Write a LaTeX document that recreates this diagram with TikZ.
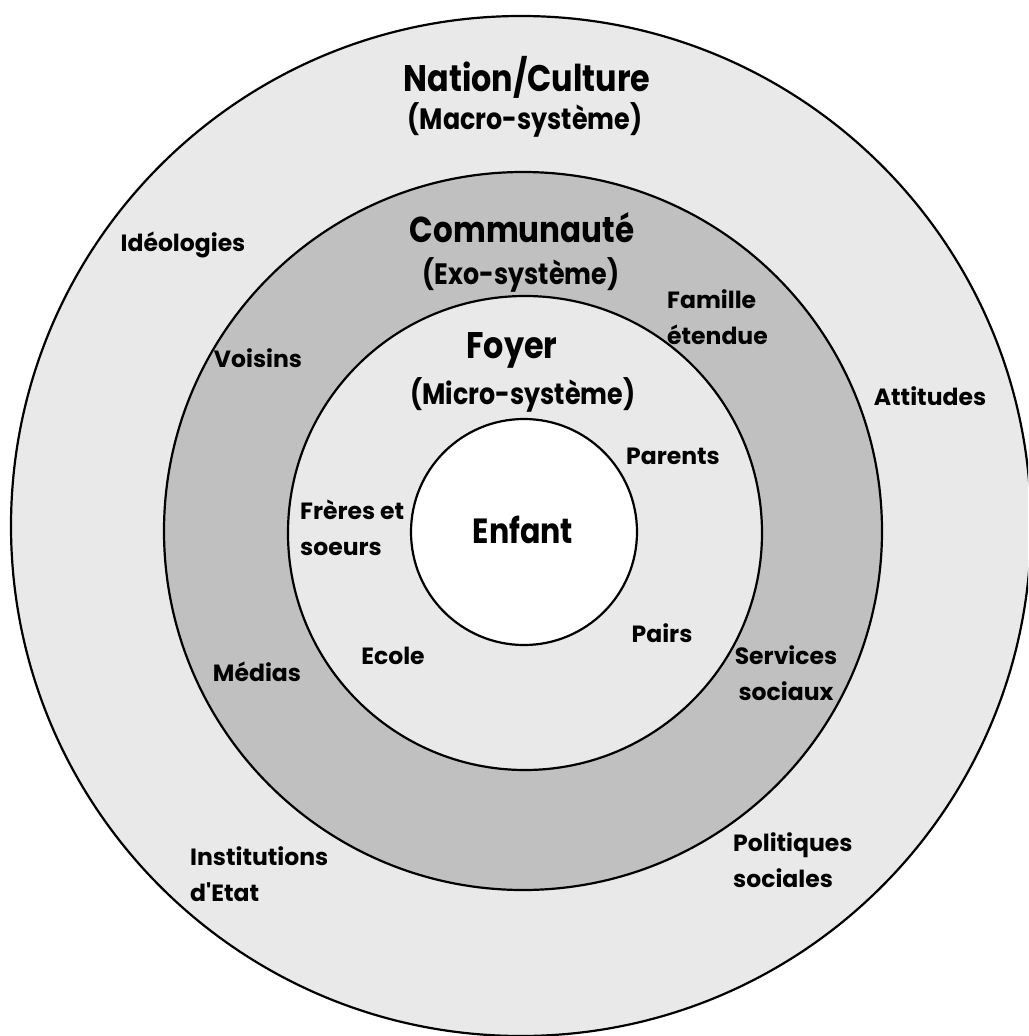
\documentclass[tikz,border=0pt]{standalone}
\usepackage{fontspec}
\setmainfont{Poppins}[FakeStretch=0.86]
\newfontfamily\labfont{Poppins}
\begin{document}
\begin{tikzpicture}[x=1pt,y=-1pt,
  ring/.style={circle, draw=black, line width=2.2pt, inner sep=0pt},
  big/.style={font=\fontsize{37}{42}\selectfont\bfseries, inner sep=0pt},
  mid/.style={font=\fontsize{29.5}{34}\selectfont\bfseries, inner sep=0pt},
  lab/.style={font=\labfont\fontsize{23.5}{36}\selectfont\bfseries, inner sep=0pt}]
\useasboundingbox (0,0) rectangle (1028,1036);
\clip (0,0) rectangle (1028,1036);
\fill[white] (0,0) rectangle (1028,1036);
\node[ring, fill={rgb,255:red,233;green,233;blue,233}, minimum size=1020pt] (macro) at (521,526) {};
\node[ring, fill={rgb,255:red,192;green,192;blue,192}, minimum size=718pt] (exo) at (523,531) {};
\node[ring, fill={rgb,255:red,233;green,233;blue,233}, minimum size=474pt] (micro) at (525,533) {};
\node[ring, fill=white, minimum size=226pt] (enfantc) at (524,532) {};

\node[big] (nation) at (527,77) {Nation/Culture};
\node[mid] (macrot) at (525,120) {(Macro-système)};
\node[big, font=\fontsize{36}{42}\selectfont\bfseries] (commu) at (522,228) {Communauté};
\node[mid] (exot) at (521,275) {(Exo-système)};
\node[big] (foyer) at (512,350) {Foyer};
\node[mid] (microt) at (523,395) {(Micro-système)};
\node[big, font=\fontsize{35}{42}\selectfont\bfseries] (enfant) at (523,530) {Enfant};

\node[lab] (ideo) at (183,245) {Idéologies};
\node[lab, anchor=west, align=left] (famille) at (667,317) {Famille\\étendue};
\node[lab] (voisins) at (258,358) {Voisins};
\node[lab] (attitudes) at (930,396) {Attitudes};
\node[lab] (parents) at (673,456) {Parents};
\node[lab, anchor=west, align=left] (freres) at (300,528) {Frères et\\soeurs};
\node[lab] (pairs) at (662,633) {Pairs};
\node[lab] (ecole) at (393,656) {Ecole};
\node[lab] (medias) at (257,672) {Médias};
\node[lab, align=center] (services) at (786,673) {Services\\sociaux};
\node[lab, anchor=west, align=left] (instit) at (190,874) {Institutions\\d'Etat};
\node[lab, anchor=west, align=left] (polit) at (733,860) {Politiques\\sociales};
\end{tikzpicture}
\end{document}
